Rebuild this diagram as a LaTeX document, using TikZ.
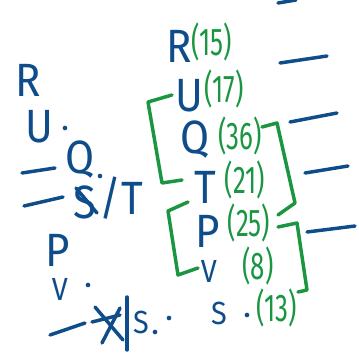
\documentclass[tikz,border=0pt]{standalone}
\usepackage{fontspec}
\setmainfont{Fira Sans}
\definecolor{inkblue}{HTML}{0E4C8A}
\definecolor{inkgreen}{HTML}{1A9642}
\newcommand{\hwnum}[1]{\scalebox{0.67}[1]{#1}}
\newcommand{\hwlet}[1]{\scalebox{0.9}[1]{#1}}
\tikzset{
  ink/.style={line width=2.6pt, line cap=round, line join=round},
  blueink/.style={ink, draw=inkblue},
  greenink/.style={ink, draw=inkgreen},
  letter/.style={text=inkblue, inner sep=0pt, font=\fontsize{35}{35}\selectfont},
  smallletter/.style={text=inkblue, inner sep=0pt, font=\fontsize{24}{24}\selectfont},
  num/.style={text=inkgreen, inner sep=0pt, font=\fontsize{29}{29}\selectfont},
  dotmark/.style={fill=inkblue, circle, inner sep=0pt, minimum size=3.5pt}
}
\begin{document}
\begin{tikzpicture}[x=0.75pt,y=-0.75pt]
\useasboundingbox (0,0) rectangle (359,360);

% ---------- left column ----------
\node[letter] (lR) at (28,80) {\hwlet{R}};
\node[letter] (lU) at (39,127) {\hwlet{U}};
\node[dotmark] (lUd) at (65,128) {};
\coordinate (d1a) at (22,173); \coordinate (d1b) at (55,168);
\draw[blueink] (d1a) -- (d1b);
\node[letter] (lQ) at (80,160) {\hwlet{Q}};
\node[dotmark] (lQd) at (100,176) {};
\coordinate (d2a) at (24,206); \coordinate (d2b) at (63,197);
\draw[blueink] (d2a) -- (d2b);
\node[letter] (lS) at (85,202) {\hwlet{S}};
\coordinate (xa) at (76,188); \coordinate (xb) at (97,213);
\draw[blueink] (xa) -- (xb);
\node[letter] (lT) at (121,198) {\hwlet{/T}};
\node[letter] (lP) at (58,250) {\hwlet{P}};
\node[smallletter] (lV) at (60,289) {\hwlet{V}};
\node[dotmark] (lVd) at (88,285) {};
\coordinate (d3a) at (50,335); \coordinate (d3b) at (85,323);
\draw[blueink] (d3a) -- (d3b);
\coordinate (s1a) at (92,322); \coordinate (s1b) at (120,315);
\coordinate (s2a) at (95,307); \coordinate (s2b) at (123,340);
\coordinate (s3a) at (120,308); \coordinate (s3b) at (102,343);
\draw[blueink] (s1a) -- (s1b);
\draw[blueink] (s2a) -- (s2b);
\draw[blueink] (s3a) -- (s3b);
\coordinate (bara) at (127,297); \coordinate (barb) at (127,350);
\draw[blueink] (bara) -- (barb);
\node[smallletter] (lS2) at (141,322) {\hwlet{S}};
\node[dotmark] (lS2d) at (155,332) {};
\node[dotmark] (lS2e) at (169,318) {};

% ---------- right column ----------
\node[letter] (rR) at (179,46) {\hwlet{R}};
\node[num] (n15) at (212,42) {\hwnum{(15)}};
\node[letter] (rU) at (189,96) {\hwlet{U}};
\node[num] (n17) at (224,89) {\hwnum{(17)}};
\node[letter] (rQ) at (195,140) {\hwlet{Q}};
\node[num] (n36) at (240,136) {\hwnum{(36)}};
\node[letter] (rT) at (205,187) {\hwlet{T}};
\node[num] (n21) at (245,180) {\hwnum{(21)}};
\node[letter] (rP) at (208,231) {\hwlet{P}};
\node[num] (n25) at (249,223) {\hwnum{(25)}};
\node[smallletter] (rV) at (209,271) {\hwlet{V}};
\node[num] (n8) at (258,266) {\hwnum{(8)}};
\node[smallletter] (rS) at (219,313) {\hwlet{S}};
\node[dotmark] (rSd) at (247,315) {};
\node[num] (n13) at (277,308) {\hwnum{(13)}};

% ---------- green brackets ----------
\draw[greenink] (172,95) -- (148,102) -- (162,183) -- (182,180);
\draw[greenink] (262,127) -- (277,123) -- (295,203) -- (278,215);
\draw[greenink] (188,202) -- (168,211) -- (178,275) -- (198,268);
\draw[greenink] (278,227) -- (297,223) -- (307,290) -- (298,292);

% ---------- blue dashes on the right ----------
\coordinate (e1a) at (278,3);   \coordinate (e1b) at (296,0);
\coordinate (e2a) at (280,63);  \coordinate (e2b) at (327,56);
\coordinate (e3a) at (290,122); \coordinate (e3b) at (337,113);
\coordinate (e4a) at (305,173); \coordinate (e4b) at (348,166);
\coordinate (e5a) at (307,232); \coordinate (e5b) at (355,226);
\draw[blueink] (e1a) -- (e1b);
\draw[blueink] (e2a) -- (e2b);
\draw[blueink] (e3a) -- (e3b);
\draw[blueink] (e4a) -- (e4b);
\draw[blueink] (e5a) -- (e5b);
\end{tikzpicture}
\end{document}
